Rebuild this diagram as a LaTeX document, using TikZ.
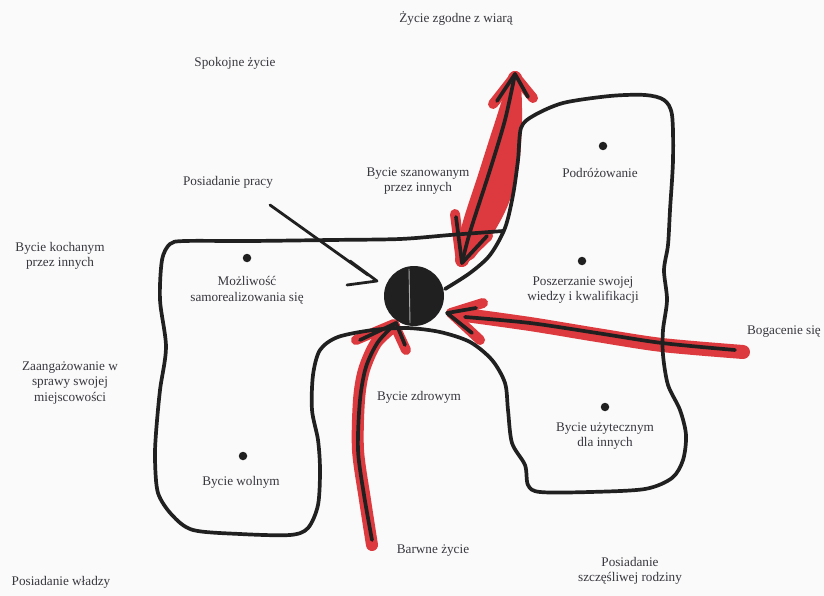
\documentclass[tikz,border=0pt]{standalone}
\usepackage{fontspec}
\setmainfont{Liberation Serif}
\usetikzlibrary{calc}
\definecolor{inkc}{RGB}{32,32,32}
\definecolor{redc}{RGB}{220,58,62}
\definecolor{txtc}{RGB}{55,55,62}
\definecolor{bgc}{RGB}{250,250,250}
\begin{document}
\begin{tikzpicture}[x=1pt,y=-1pt,
  ink/.style={draw=inkc,line width=3.7pt,line cap=round,line join=round},
  thinink/.style={draw=inkc,line width=2.8pt,line cap=round,line join=round},
  marker/.style={draw=redc,line width=14pt,line cap=round,line join=round},
  markerhead/.style={draw=redc,line width=10pt,line cap=round,line join=round},
  lbl/.style={text=txtc,font=\fontsize{13.2}{15.5}\selectfont,align=center,inner sep=0pt},
  spot/.style={circle,fill=inkc,inner sep=0pt,minimum size=8.5pt}]
\fill[bgc] (0,0) rectangle (824,596);
\useasboundingbox (0,0) rectangle (824,596);

% ---------- labels ----------
\node[lbl] (t1)  at (456,18)  {Życie zgodne z wiarą};
\node[lbl] (t2)  at (235,63)  {Spokojne życie};
\node[lbl] (t3)  at (228,182) {Posiadanie pracy};
\node[lbl] (t4)  at (418,181) {Bycie szanowanym\\przez innych};
\node[lbl] (t5)  at (600,173) {Podróżowanie};
\node[lbl] (t6)  at (60,256)  {Bycie kochanym\\przez innych};
\node[lbl] (t7)  at (247,290) {Możliwość\\samorealizowania się};
\node[lbl] (t8)  at (583,290) {Poszerzanie swojej\\wiedzy i kwalifikacji};
\node[lbl] (t9)  at (784,332) {Bogacenie się};
\node[lbl] (t10) at (70,383)  {Zaangażowanie w\\sprawy swojej\\miejscowości};
\node[lbl] (t11) at (419,397) {Bycie zdrowym};
\node[lbl] (t12) at (605,436) {Bycie użytecznym\\dla innych};
\node[lbl] (t13) at (241,482) {Bycie wolnym};
\node[lbl] (t14) at (433,551) {Barwne życie};
\node[lbl] (t15) at (630,571) {Posiadanie\\szczęśliwej rodziny};
\node[lbl] (t16) at (61,582)  {Posiadanie władzy};

% ---------- dots ----------
\node[spot] (d1) at (247,258) {};
\node[spot] (d2) at (603,146) {};
\node[spot] (d3) at (582,261) {};
\node[spot] (d4) at (605,407) {};
\node[spot] (d5) at (243,456) {};

% ---------- coordinates ----------
\coordinate (topTip) at (515,74);
\coordinate (topBot) at (462,263);
\coordinate (bogStart) at (735,350);
\coordinate (bogTip) at (447,313);
\coordinate (barStart) at (372,540);
\coordinate (barTip) at (396,323);
\coordinate (prStart) at (270,205);
\coordinate (prTip) at (377,281);

% ---------- red marker ----------
\draw[marker] plot[smooth,tension=0.5] coordinates {(743,352) (662,345) (597,335) (530,324) (458,314)};
\draw[markerhead] (483,303) -- (451,313) -- (480,340);
\draw[marker,line width=12pt] plot[smooth,tension=0.5] coordinates {(372,545) (365,500) (358,450) (359,400) (364,370) (376,343) (394,326)};
\draw[markerhead] (356,340) -- (394,324) -- (406,350);
\fill[redc] plot[smooth cycle,tension=0.5] coordinates {(456,262) (462,225) (478,175) (494,125) (508,85)
  (520,82) (522,120) (519,165) (508,205) (490,238) (468,262)};
\draw[marker] plot[smooth,tension=0.5] coordinates {(462,260) (471,228) (490,170) (505,120) (515,78)};
\draw[markerhead] plot[smooth,tension=0.5] coordinates {(470,255) (492,222) (506,185) (513,145) (516,105)};
\draw[markerhead] (493,104) -- (515,76) -- (533,98);
\draw[markerhead] (455,214) -- (461,262) -- (488,236);

% ---------- outline ----------
\draw[ink] plot[smooth,tension=0.5] coordinates {
 (445,289) (470,273) (490,255) (505,228) (513,195) (518,160) (521,128)
 (533,116) (563,103) (610,96) (645,95) (664,100) (672,115) (673,160)
 (670,210) (668,245) (664,270) (667,300) (663,330) (663,355) (668,385)
 (680,410) (686,435) (683,460) (672,478) (645,489) (590,492) (540,492)
 (528,485) (525,465) (512,443) (508,410) (505,383) (492,360) (470,342)
 (440,332) (407,328) (373,330) (338,337) (320,350) (313,375) (312,410)
 (318,440) (320,470) (318,505) (308,528) (290,535) (240,534) (193,530)
 (172,515) (158,493) (155,460) (156,433) (160,390) (166,347) (160,300)
 (162,260) (170,244) (185,241) (250,241) (330,240) (400,239) (450,235) (503,231)};

% ---------- black arrows ----------
\draw[ink] plot[smooth,tension=0.5] coordinates {(topBot) (470,232) (490,170) (505,120) (topTip)};
\draw[ink] (497,101) -- (topTip) -- (528,97);
\draw[ink] (456,217) -- (topBot) -- (487,236);

\draw[ink] plot[smooth,tension=0.5] coordinates {(bogStart) (662,343) (597,333) (530,323) (465,317)};
\draw[ink] (476,308) -- (bogTip) -- (472,333);

\draw[ink] plot[smooth,tension=0.5] coordinates {(barStart) (364,495) (358,450) (360,400) (366,367) (378,342) (barTip)};
\draw[ink] (360,340) -- (barTip) -- (405,345);

\draw[thinink] (prStart) -- (368,275);
\draw[thinink] (350,261) -- (prTip) -- (347,285);

% ---------- centre disk ----------
\node[circle,fill=inkc,minimum size=60pt,inner sep=0pt] (c) at (414,296) {};
\draw[gray!65,line width=0.9pt] ($(c.north)+(-5,3)$) -- ($(c.south)+(-4,-3)$);
\end{tikzpicture}
\end{document}
